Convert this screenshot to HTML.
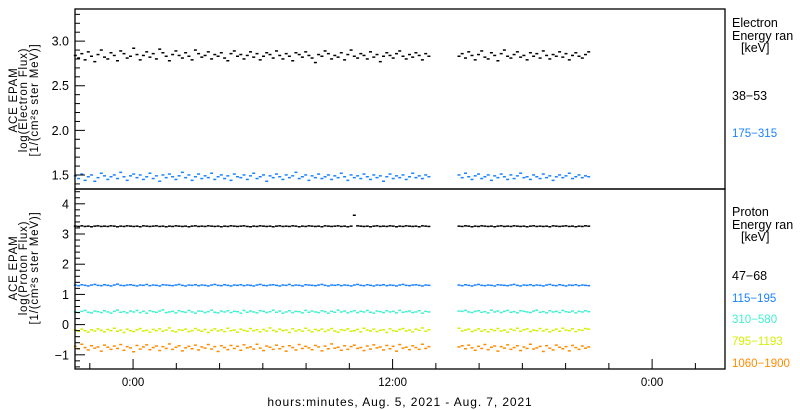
<!DOCTYPE html>
<html><head><meta charset="utf-8"><style>
html,body{margin:0;padding:0;background:#fff;}
svg{display:block;font-family:"Liberation Sans",sans-serif;}
</style></head><body>
<svg id="chart" width="800" height="410" viewBox="0 0 800 410" xmlns="http://www.w3.org/2000/svg">
<rect x="0" y="0" width="800" height="410" fill="#fff"/>
<g id="marks"></g>
<g id="axes"></g>
<g font-size="11.5" letter-spacing="0.8" text-anchor="middle" fill="#000">
<text transform="translate(17,100) rotate(-90)">ACE EPAM</text>
<text transform="translate(27,100) rotate(-90)">log(Electron Flux)</text>
<text transform="translate(38,100) rotate(-90)">[1/(cm²s ster MeV)]</text>
</g>
<g font-size="11.5" letter-spacing="0.8" text-anchor="middle" fill="#000">
<text transform="translate(17,268) rotate(-90)">ACE EPAM</text>
<text transform="translate(27,268) rotate(-90)">log(Proton Flux)</text>
<text transform="translate(38,268) rotate(-90)">[1/(cm²s ster MeV)]</text>
</g>
<text x="400" y="406" font-size="12" letter-spacing="0.9" text-anchor="middle">hours:minutes, Aug.  5, 2021 - Aug.  7, 2021</text>
<g font-size="12.5">
<text x="732" y="27">Electron</text>
<text x="732" y="40">Energy ran</text>
<text x="741" y="52">[keV]</text>
<text x="732" y="100" fill="#000">38−53</text>
<text x="732" y="137" fill="#1a82ff" font-size="11.5">175−315</text>
</g>
<g font-size="12.5">
<text x="732" y="216">Proton</text>
<text x="732" y="229">Energy ran</text>
<text x="741" y="241">[keV]</text>
<text x="732" y="280" fill="#000">47−68</text>
<text x="732" y="302" fill="#1a82ff" font-size="11.5">115−195</text>
<text x="732" y="323" fill="#40f0d0" font-size="11.5">310−580</text>
<text x="732" y="345" fill="#d4f000" font-size="11.5">795−1193</text>
<text x="732" y="367" fill="#ff8c00" font-size="11.5">1060−1900</text>
</g>
</svg>
<script>
// time axis: hours relative to 0:00 Aug 6
const seg1Start = -2.67, seg2Start = 15.07, stepH = 0.15;
const xTickHours = [-2,0,2,4,6,8,10,12,14,16,18,20,22,24,26];
const xMajorHours = [0,12,24];
const xMajorLabels = ["0:00","12:00","0:00"];
const eTicks = [1.5,2.0,2.5,3.0];
const eTickLabels = ["1.5","2.0","2.5","3.0"];
const pTicks = [-1,0,1,2,3,4];
const pTickLabels = ["−1","0","1","2","3","4"];

// values in hundredths of log10 flux
const e38a = [284,281,286,279,288,283,277,285,290,282,280,287,284,278,289,286,281,283,292,285,279,284,288,282,286,280,291,287,283,278,285,289,284,281,287,283,279,290,286,282,284,288,280,285,283,287,281,278,286,289,283,285,280,284,288,282,286,279,283,287,285,281,289,284,280,286,283,278,287,285,282,288,284,281,276,285,283,289,286,280,284,282,287,279,285,290,283,281,286,284,280,288,282,285,277,283,287,284,281,286,289,283,280,285,282,287,284,279,286,283];
const e38b = [283,286,281,288,284,279,285,289,282,280,287,284,278,286,290,283,281,285,288,282,284,279,287,283,286,281,289,284,280,285,283,288,282,286,279,284,287,283,281,285,288];
const e175a = [149,146,151,144,148,150,143,147,152,149,145,148,150,146,153,148,144,149,151,147,150,145,148,152,146,149,143,150,147,151,148,145,149,153,147,150,144,148,151,146,149,147,152,145,148,150,146,149,144,151,148,147,150,145,149,152,146,148,150,143,149,147,151,148,145,150,147,149,153,146,148,150,144,149,147,151,146,148,150,145,149,147,152,148,144,150,147,149,146,151,148,145,150,147,149,143,148,151,146,149,147,150,145,148,152,147,149,146,150,148];
const e175b = [150,147,152,148,145,149,151,146,148,150,144,149,147,151,148,145,150,146,149,152,147,148,145,150,148,146,151,147,149,144,148,150,147,149,152,146,148,150,147,149,148];
const p47a = [326,325,327,325,326,324,326,327,325,326,325,327,326,324,326,325,327,326,325,326,324,327,326,325,326,327,325,326,324,326,325,327,326,325,326,324,326,327,325,326,325,327,326,325,326,324,326,325,327,326,325,326,327,325,324,326,325,327,326,325,326,324,326,327,325,326,325,327,326,324,326,325,327,326,325,326,324,327,326,325,326,327,325,326,324,326,362,327,326,325,326,324,326,327,325,326,325,327,326,324,326,325,327,326,325,326,324,327,326,325];
const p47b = [326,325,327,326,324,326,325,327,326,325,326,324,326,327,325,326,325,327,326,325,326,324,326,327,325,326,325,326,324,327,326,325,326,327,325,326,324,326,325,327,326];
const p115a = [131,129,132,130,128,131,133,130,129,132,130,128,131,134,130,129,131,132,130,128,131,130,133,129,131,130,128,132,131,130,129,131,133,130,128,131,130,132,129,131,130,128,131,133,130,129,132,130,128,131,130,132,129,131,130,128,131,133,130,129,131,132,130,128,131,130,133,129,131,130,128,132,131,130,129,131,133,130,128,131,130,132,129,131,130,128,131,133,130,129,132,130,128,131,130,132,129,131,130,128,131,133,130,129,131,132,130,128,131,130];
const p115b = [131,129,132,130,128,131,133,130,129,131,130,128,132,131,130,129,131,133,130,128,131,130,132,129,131,130,128,131,133,130,129,132,130,128,131,130,132,129,131,130,129];
const p310a = [42,40,44,47,41,39,45,43,40,46,42,38,44,48,41,43,39,45,42,47,40,44,38,46,43,41,45,49,40,42,44,39,46,43,41,47,42,38,45,44,40,43,48,41,39,45,42,46,40,44,43,38,47,41,45,42,39,46,44,40,43,48,41,45,38,42,46,40,44,43,39,47,41,45,42,40,46,43,38,44,41,48,42,45,39,43,46,40,44,42,47,41,38,45,43,40,46,42,44,39,47,41,43,45,40,42,46,38,44,42];
const p310b = [45,44,47,42,40,44,46,41,43,39,48,42,45,40,44,47,41,43,39,46,44,42,40,45,48,41,43,39,46,42,44,40,47,43,41,45,39,44,42,46,43];
const p795a = [-18,-22,-15,-20,-25,-17,-21,-14,-19,-24,-16,-20,-12,-22,-18,-26,-15,-20,-23,-17,-13,-21,-19,-25,-16,-20,-14,-22,-18,-11,-21,-24,-17,-19,-15,-23,-20,-13,-18,-22,-16,-26,-19,-14,-21,-17,-23,-12,-20,-18,-25,-15,-19,-22,-13,-20,-17,-24,-16,-21,-11,-19,-23,-15,-20,-18,-26,-14,-21,-17,-22,-12,-19,-24,-16,-20,-15,-23,-18,-13,-21,-25,-17,-19,-14,-22,-20,-16,-24,-12,-18,-21,-15,-23,-19,-17,-26,-14,-20,-22,-16,-13,-21,-18,-24,-15,-19,-11,-22,-17];
const p795b = [-12,-21,-18,-15,-23,-19,-14,-22,-17,-24,-16,-20,-13,-21,-18,-25,-15,-19,-12,-22,-17,-14,-23,-18,-20,-13,-21,-16,-24,-19,-15,-22,-12,-18,-20,-14,-23,-17,-19,-13,-15];
const p1060a = [-72,-80,-65,-76,-84,-70,-78,-74,-88,-68,-75,-82,-71,-79,-66,-85,-73,-77,-90,-69,-81,-74,-67,-83,-76,-71,-86,-73,-79,-64,-82,-75,-70,-87,-77,-72,-80,-68,-84,-74,-78,-66,-81,-73,-89,-70,-76,-83,-69,-79,-72,-85,-67,-77,-74,-81,-65,-78,-86,-71,-75,-82,-68,-80,-73,-88,-70,-76,-84,-66,-79,-72,-77,-83,-69,-74,-87,-71,-80,-64,-78,-75,-85,-70,-82,-73,-68,-79,-76,-86,-71,-81,-67,-77,-74,-84,-69,-80,-72,-88,-66,-78,-75,-83,-70,-76,-82,-65,-79,-73];
const p1060b = [-74,-70,-80,-68,-77,-85,-72,-79,-66,-83,-75,-71,-88,-73,-78,-67,-82,-76,-70,-86,-74,-79,-65,-81,-77,-72,-89,-70,-78,-84,-68,-75,-80,-73,-87,-69,-76,-82,-71,-78,-74];

const NS = "http://www.w3.org/2000/svg";
const L = 75, R = 725, TT = 9, MID = 189, BB = 369;
const hMin = -2.685, hMax = 27.37;
function xT(h){ return L + (h - hMin) / (hMax - hMin) * (R - L); }
const eMin = 1.343, eMax = 3.36;
function yE(v){ return MID - (v - eMin) / (eMax - eMin) * (MID - TT); }
const pMin = -1.47, pMax = 4.49;
function yP(v){ return BB - (v - pMin) / (pMax - pMin) * (BB - MID); }

const marks = document.getElementById("marks");
const axes = document.getElementById("axes");
function mk(tag, attrs, parent){
  const el = document.createElementNS(NS, tag);
  for (const k in attrs) el.setAttribute(k, attrs[k]);
  parent.appendChild(el);
  return el;
}
function drawSeries(name, color, yFn, segA, segB){
  const g = mk("g", {fill: color}, marks);
  
  
  [[segA, seg1Start],[segB, seg2Start]].forEach(([arr, start]) => {
    arr.forEach((v, i) => {
      const x = xT(start + i * stepH), y = yFn(v / 100);
      const r = mk("rect", {x: (x - 1.5).toFixed(1), y: (y - 0.75).toFixed(1), width: 3, height: 1.5}, g);
      
      
    });
  });
}
drawSeries("series-electron-38-53", "#000", yE, e38a, e38b);
drawSeries("series-electron-175-315", "#1a82ff", yE, e175a, e175b);
drawSeries("series-proton-47-68", "#000", yP, p47a, p47b);
drawSeries("series-proton-115-195", "#1a82ff", yP, p115a, p115b);
drawSeries("series-proton-310-580", "#40f0d0", yP, p310a, p310b);
drawSeries("series-proton-795-1193", "#d4f000", yP, p795a, p795b);
drawSeries("series-proton-1060-1900", "#ff8c00", yP, p1060a, p1060b);

// frames
const f1 = mk("rect", {x: L, y: TT, width: R - L, height: MID - TT, fill: "none", stroke: "#000", "stroke-width": 1.3}, axes);


const f2 = mk("rect", {x: L, y: MID, width: R - L, height: BB - MID, fill: "none", stroke: "#000", "stroke-width": 1.3}, axes);



// electron y ticks
for (let k = 14; k <= 33; k++){
  const v = k / 10, y = yE(v);
  if (y < TT || y > MID) continue;
  const major = (k % 5 === 0);
  mk("line", {x1: L, x2: L + (major ? 10 : 5), y1: y, y2: y, stroke: "#000"}, axes);
}
eTicks.forEach((v, i) => {
  const t = mk("text", {x: L - 6, y: yE(v) + 4.5, "font-size": 12.5, "text-anchor": "end"}, axes);
  t.textContent = eTickLabels[i];
  
  
});
// proton y ticks
for (let k = -7; k <= 22; k++){
  const v = k / 5, y = yP(v);
  if (y < MID || y > BB) continue;
  const major = (k % 5 === 0);
  mk("line", {x1: L, x2: L + (major ? 10 : 5), y1: y, y2: y, stroke: "#000"}, axes);
}
pTicks.forEach((v, i) => {
  const t = mk("text", {x: L - 6, y: yP(v) + 4.5, "font-size": 12.5, "text-anchor": "end"}, axes);
  t.textContent = pTickLabels[i];
  
  
});
// x ticks
xTickHours.forEach(h => {
  const x = xT(h);
  if (x < L || x > R) return;
  const major = xMajorHours.includes(h);
  mk("line", {x1: x, x2: x, y1: BB, y2: BB - (major ? 10 : 6), stroke: "#000"}, axes);
});
xMajorHours.forEach((h, i) => {
  const t = mk("text", {x: xT(h), y: 386, "font-size": 11.5, "text-anchor": "middle"}, axes);
  t.textContent = xMajorLabels[i];
  
  
});
</script>
</body></html>
